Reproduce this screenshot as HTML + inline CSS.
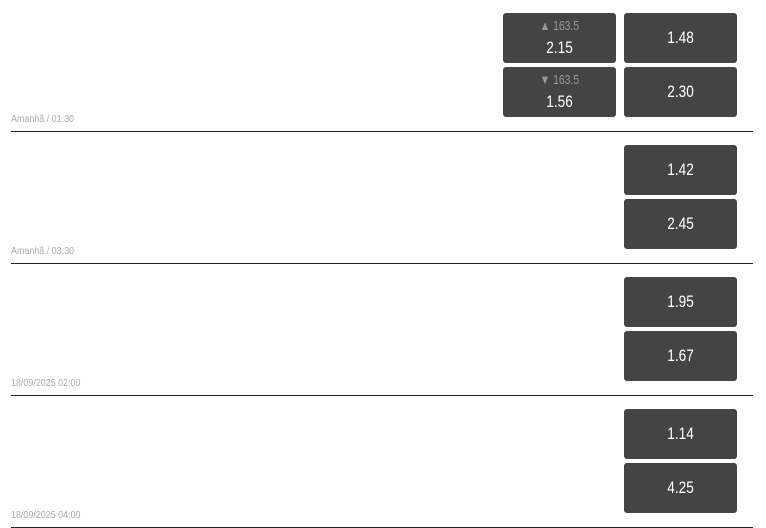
<!DOCTYPE html>
<html><head><style>
body{margin:0;width:766px;height:528px;background:#fff;font-family:"Liberation Sans",sans-serif;position:relative;overflow:hidden}
.b{position:absolute;width:113px;height:50px;background:#444;border-radius:3px;color:#fff;font-size:17px;text-align:center;line-height:49px}
.t{display:inline-block;transform:scaleX(0.8)}
.b .s{position:absolute;left:0;right:0;top:6px;line-height:14px;font-size:13px;color:#999}
.b .v{position:absolute;left:0;right:0;top:25px;line-height:19px}
.l{position:absolute;left:11px;width:742px;height:1px;background:#222}
.d{position:absolute;left:11px;font-size:10.5px;color:#aaa;transform:scaleX(0.85);transform-origin:left}
</style></head><body>
<div class="b" style="left:503px;top:13px"><div class="s"><span class="t">▲ 163.5</span></div><div class="v"><span class="t">2.15</span></div></div>
<div class="b" style="left:503px;top:67px"><div class="s"><span class="t">▼ 163.5</span></div><div class="v"><span class="t">1.56</span></div></div>
<div class="b" style="left:624px;top:13px"><span class="t">1.48</span></div>
<div class="b" style="left:624px;top:67px"><span class="t">2.30</span></div>
<div class="d" style="top:113px">Amanhã / 01:30</div>
<div class="l" style="top:131px"></div>
<div class="b" style="left:624px;top:145px"><span class="t">1.42</span></div>
<div class="b" style="left:624px;top:199px"><span class="t">2.45</span></div>
<div class="d" style="top:245px">Amanhã / 03:30</div>
<div class="l" style="top:263px"></div>
<div class="b" style="left:624px;top:277px"><span class="t">1.95</span></div>
<div class="b" style="left:624px;top:331px"><span class="t">1.67</span></div>
<div class="d" style="top:377px">18/09/2025 02:00</div>
<div class="l" style="top:395px"></div>
<div class="b" style="left:624px;top:409px"><span class="t">1.14</span></div>
<div class="b" style="left:624px;top:463px"><span class="t">4.25</span></div>
<div class="d" style="top:509px">18/09/2025 04:00</div>
<div class="l" style="top:527px"></div>
</body></html>
